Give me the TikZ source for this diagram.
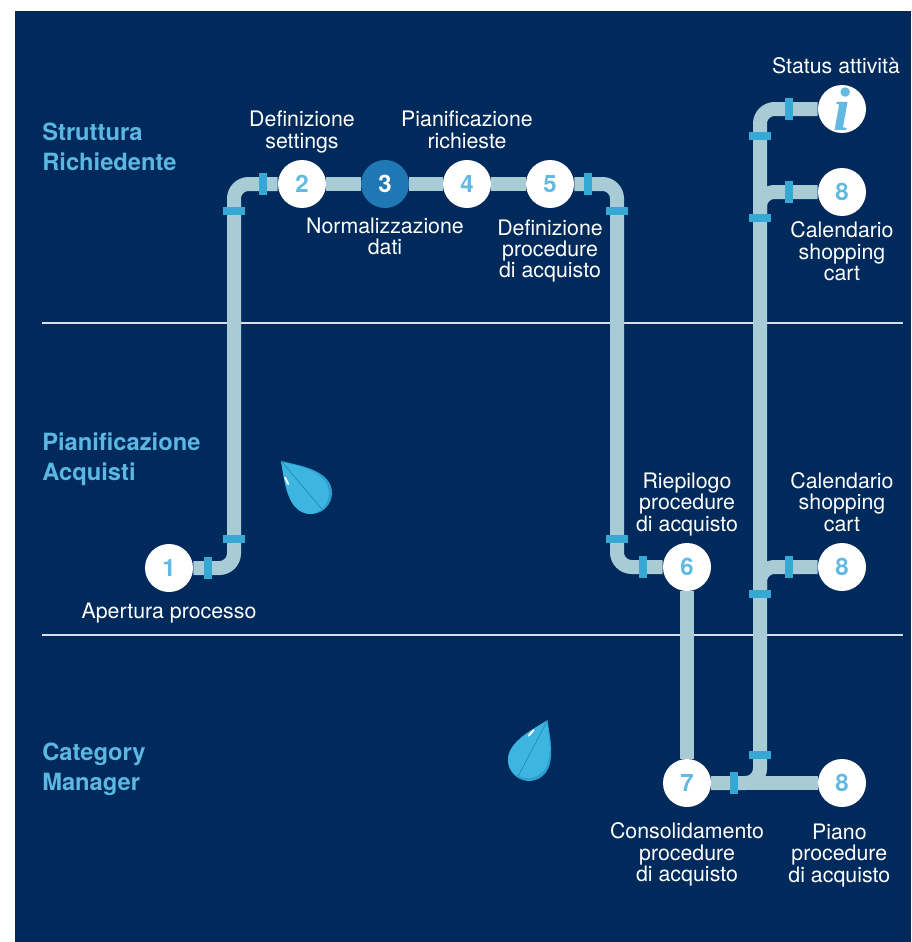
\documentclass[tikz,border=0pt]{standalone}
\usepackage{fontspec}
\setmainfont{TeX Gyre Heros}
\newfontfamily\infofont{Liberation Serif}
\usepackage{tikz}
\usetikzlibrary{positioning,backgrounds}

\definecolor{navy}{HTML}{012A5C}
\definecolor{pipecol}{HTML}{A9CBD6}
\definecolor{clampcol}{HTML}{35A8D3}
\definecolor{stepnum}{HTML}{62BAE2}
\definecolor{stepdark}{HTML}{1F78B4}
\definecolor{lanetext}{HTML}{5CB7E2}
\definecolor{droplight}{HTML}{3CB6E0}
\definecolor{dropdark}{HTML}{2C9FCC}

\def\droppath{(0,-44) .. controls (6,-34) and (21,-16) .. (21,0)
  arc[start angle=0,end angle=180,radius=21]
  .. controls (-21,-16) and (-6,-34) .. cycle}

\begin{document}
\begin{tikzpicture}[x=0.75pt,y=-0.75pt,
    station/.style={circle,fill=white,minimum size=36pt,inner sep=0pt,text=stepnum,
      font=\bfseries\fontsize{18}{18}\selectfont},
    caption/.style={text=white,align=center,inner sep=0pt,
      font=\fontsize{16}{15.9}\selectfont,
      execute at begin node=\strut,execute at end node=\strut},
    lane/.style={text=lanetext,align=left,inner sep=0pt,anchor=north west,
      font=\bfseries\fontsize{17.8}{22.3}\selectfont,execute at begin node=\strut},
    pipe/.style={draw=pipecol,line width=10.5pt,rounded corners=11pt},
    clamp/.style={fill=clampcol},
    waterdrop/.pic={
      \begin{scope}
        \clip \droppath;
        \fill[dropdark] (-30,-50) rectangle (30,30);
        \fill[droplight,shift={(-2.5,-2)}] \droppath;
      \end{scope}
      \draw[dropdark!80!black,line width=0.4pt] (0,-44) -- (-3,19);
      \draw[white,line width=1.4pt,line cap=round] (-8.5,-29) -- (-10.5,-22);
    }]
    \useasboundingbox (0,0) rectangle (911,942);

    \node[station] (s1) at (169,568) {1};
    \node[station] (s2) at (302,184) {2};
    \node[station,fill=stepdark,text=white] (s3) at (385,184) {3};
    \node[station] (s4) at (467,184) {4};
    \node[station] (s5) at (550,184) {5};
    \node[station] (s6) at (687,567) {6};
    \node[station] (s7) at (687,783) {7};
    \node[station] (s8a) at (842,192) {8};
    \node[station] (s8b) at (842,567) {8};
    \node[station] (s8c) at (842,783) {8};
    \node[station,font=\infofont\bfseries\itshape\fontsize{46}{46}\selectfont] (info) at (842,109) {i};

    \coordinate (riserA) at (234,380);
    \coordinate (riserB) at (617,380);
    \coordinate (riserC) at (760,450);

    \node[caption,above=3.75pt of s2] (t2) {Definizione\\settings};
    \node[caption,below=7.2pt of s3] (t3) {Normalizzazione\\dati};
    \node[caption,above=3.75pt of s4] (t4) {Pianificazione\\richieste};
    \node[caption,below=8.5pt of s5] (t5) {Definizione\\procedure\\di acquisto};
    \node[caption,above=3.75pt of info,xshift=-4.5pt] (tinfo) {Status attività};
    \node[caption,below=4pt of s8a] (t8a) {Calendario\\shopping\\cart};
    \node[caption,above=3.75pt of s8b] (t8b) {Calendario\\shopping\\cart};
    \node[caption,above=3.75pt of s6] (t6) {Riepilogo\\procedure\\di acquisto};
    \node[caption,below=7.5pt of s1] (t1) {Apertura processo};
    \node[caption,below=11.5pt of s7] (t7) {Consolidamento\\procedure\\di acquisto};
    \node[caption,below=12.5pt of s8c,xshift=-2pt] (t8c) {Piano\\procedure\\di acquisto};

    \node[lane] (laneA) at (42,123) {Struttura\\Richiedente};
    \node[lane] (laneB) at (42,433) {Pianificazione\\Acquisti};
    \node[lane] (laneC) at (42,743) {Category\\Manager};

    \begin{scope}[on background layer]
        \fill[navy] (15,11) rectangle (911,942);
        \draw[white!85!navy,line width=0.8pt] (42,323) -- (903,323);
        \draw[white!85!navy,line width=0.8pt] (42,635) -- (903,635);

        \draw[pipe] (s1) -| (riserA) |- (s2);
        \draw[pipe] (s2) -- (s3) -- (s4) -- (s5);
        \draw[pipe] (s5) -| (riserB) |- (s6);
        \draw[pipe] (s6) -- (s7);
        \draw[pipe] (info) -| (riserC) |- (s7);
        \draw[pipe] (riserC |- s8a) ++(0,22) -- (riserC |- s8a) -- (s8a);
        \draw[pipe] (riserC |- s8b) ++(0,22) -- (riserC |- s8b) -- (s8b);
        \draw[pipe] (s7) -- (s8c);

        \foreach \x/\y in {234/539,234/211,617/211,617/539,760/755,760/594,760/218,760/136}
            \fill[clamp] (\x-11,\y-4) rectangle +(22,8);
        \foreach \x/\y in {208/568,263/184,588/184,643/567,734/783,789/567,789/192,789/109}
            \fill[clamp] (\x-4,\y-11) rectangle +(8,22);
    \end{scope}

    \pic[rotate=43] (dropA) at (311,493) {waterdrop};
    \pic[rotate=-25] (dropB) at (529,760) {waterdrop};
\end{tikzpicture}
\end{document}
